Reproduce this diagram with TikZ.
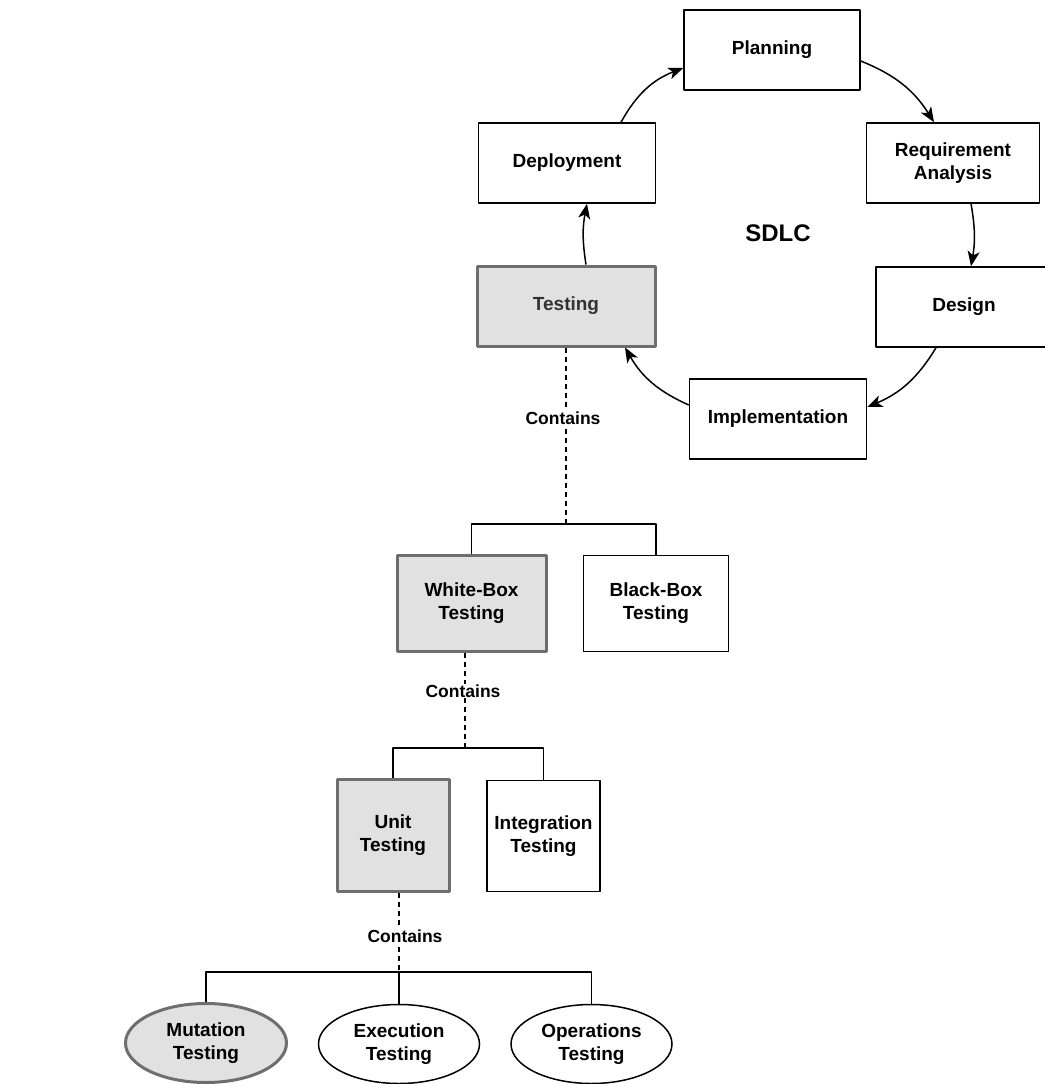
\documentclass[tikz,border=0pt]{standalone}
\usepackage{fontspec}
\setmainfont{Liberation Sans}
\usetikzlibrary{arrows.meta,shapes.geometric}
\definecolor{boxfill}{HTML}{E1E1E1}
\definecolor{boxedge}{HTML}{6E6E6E}
\tikzset{
	phase/.style={draw, line width=1.5pt, minimum width=176pt, minimum height=80pt, align=center, inner sep=2pt, font=\fontsize{19}{23}\selectfont\bfseries},
	grayed/.style={fill=boxfill, draw=boxedge, line width=3pt},
	oval/.style={ellipse, draw, line width=1.5pt, minimum width=161pt, minimum height=79pt, align=center, inner sep=0pt, font=\fontsize{19}{23}\selectfont\bfseries},
	lbl/.style={fill=white, inner sep=1pt, font=\fontsize{17.5}{20}\selectfont\bfseries},
	cyc/.style={->, line width=1.5pt},
	link/.style={line width=1.5pt},
	contains/.style={line width=1.4pt, dash pattern=on 5pt off 4pt}
}
\begin{document}
\begin{tikzpicture}[x=1pt, y=-1pt, line join=round, >={Stealth[length=15pt,width=12pt,inset=4pt]}]
	\useasboundingbox (0,0) rectangle (1044,1084);
	% vong doi SDLC
	\node[phase] (plan) at (772,50) {Planning};
	\node[phase, minimum width=173pt] (req) at (953,163) {Requirement\\Analysis};
	\node[phase] (design) at (964,307) {Design};
	\node[phase, minimum width=177pt] (impl) at (778,419) {Implementation};
	\node[phase, grayed, minimum width=178pt, text=black!80] (test) at (566,306) {Testing};
	\node[phase, minimum width=177pt] (deploy) at (567,163) {Deployment};
	\node[font=\fontsize{24}{28}\selectfont\bfseries] (sdlc) at (778,233) {SDLC};
	\draw[cyc] ([xshift=54pt]deploy.north) to[bend left=20] ([yshift=-18pt]plan.west);
	\draw[cyc] ([yshift=-11pt]plan.east) to[bend left=18] ([xshift=-19pt]req.north);
	\draw[cyc] ([xshift=18pt]req.south) to[bend left=10] ([xshift=7pt]design.north);
	\draw[cyc] ([xshift=-28pt]design.south) to[bend left=18] ([yshift=12pt]impl.east);
	\draw[cyc] ([yshift=14pt]impl.west) to[bend left=18] ([xshift=59pt]test.south);
	\draw[cyc] ([xshift=20pt]test.north) to[bend left=10] ([xshift=20pt]deploy.south);
	% cay kiem thu
	\node[phase, grayed, minimum width=149pt, minimum height=96pt] (wb) at (471.5,603.5) {White-Box\\Testing};
	\node[phase, minimum width=145pt, minimum height=96pt] (bb) at (656,603.5) {Black-Box\\Testing};
	\node[phase, grayed, minimum width=112pt, minimum height=112pt] (unit) at (393,835.5) {Unit\\Testing};
	\node[phase, minimum width=113pt, minimum height=111pt] (integ) at (543.5,836) {Integration\\Testing};
	\node[oval, fill=boxfill, draw=boxedge, line width=3pt] (mut) at (206,1043) {Mutation\\Testing};
	\node[oval] (exe) at (399,1044) {Execution\\Testing};
	\node[oval] (ops) at (591.5,1044) {Operations\\Testing};
	\coordinate (j1) at (566,524);
	\coordinate (j2) at (465,748);
	\coordinate (j3) at (399,972);
	\draw[contains] (test.south) -- node[lbl, pos=0.4, xshift=-3pt] {Contains} (j1);
	\draw[link] (wb.north) |- (j1) -| (bb.north);
	\draw[contains] (wb.south -| j2) -- node[lbl, pos=0.4, xshift=-2pt] {Contains} (j2);
	\draw[link] (unit.north) |- (j2) -| (integ.north);
	\draw[contains] (unit.south -| j3) -- node[lbl, pos=0.55, xshift=6pt] {Contains} (j3);
	\draw[link] (mut.north) |- (j3) -| (ops.north);
	\draw[link] (j3) -- (exe.north);
\end{tikzpicture}
\end{document}
